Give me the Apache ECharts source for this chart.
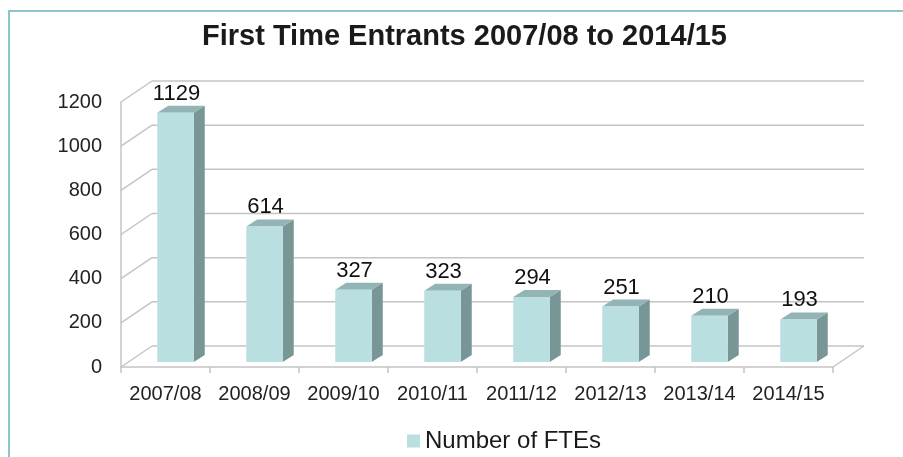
<!DOCTYPE html>
<html>
<head>
<meta charset="utf-8">
<script src="https://cdn.jsdelivr.net/npm/echarts@6/dist/echarts.min.js"></script>
<style>
html,body{margin:0;padding:0;background:#fff;}
#chart{width:903px;height:457px;}
</style>
</head>
<body>
<div id="chart"></div>
<script>
const categories = ['2007/08','2008/09','2009/10','2010/11','2011/12','2012/13','2013/14','2014/15'];
const fteValues = [1129, 614, 327, 323, 294, 251, 210, 193];
const yTicks = [0, 200, 400, 600, 800, 1000, 1200];
const seriesName = 'Number of FTEs';
const titleText = 'First Time Entrants 2007/08 to 2014/15';

const FONT = '"Liberation Sans", Arial, Helvetica, sans-serif';
const GRID = '#c4c4c4';
const FRONT = '#b9dfe0';
const SIDE = '#789696';
const TOP = '#92b4b4';
const WALL_DX = 31, WALL_DY = -21;

const chart = echarts.init(document.getElementById('chart'), null, {renderer: 'canvas'});

const option = {
  backgroundColor: '#ffffff',
  animation: false,
  title: {
    text: titleText,
    left: 202,
    top: 22,
    padding: 0,
    textStyle: {fontFamily: FONT, fontSize: 29, fontWeight: 'bold', color: '#1a1a1a'}
  },
  legend: {
    data: [seriesName],
    left: 407,
    top: 429,
    padding: 0,
    icon: 'rect',
    itemWidth: 13,
    itemHeight: 13,
    textStyle: {fontFamily: FONT, fontSize: 24, color: '#1a1a1a'}
  },
  graphic: [{
    type: 'polyline',
    silent: true,
    shape: {points: [[9, 460], [9, 11], [903, 11]]},
    style: {stroke: '#8cc6c9', lineWidth: 2, fill: null}
  }],
  grid: {left: 121, right: 70, top: 102, bottom: 90, containLabel: false},
  xAxis: {
    type: 'category',
    data: categories,
    boundaryGap: true,
    axisLine: {show: true, lineStyle: {color: GRID, width: 1.5}},
    axisTick: {show: true, length: 6, alignWithLabel: false, lineStyle: {color: GRID, width: 1.5}},
    axisLabel: {fontFamily: FONT, fontSize: 20, color: '#222', margin: 17, interval: 0},
    splitLine: {show: false}
  },
  yAxis: {
    type: 'value',
    min: 0,
    max: 1200,
    interval: 200,
    axisLine: {show: true, lineStyle: {color: GRID, width: 1.5}},
    axisTick: {show: false},
    axisLabel: {fontFamily: FONT, fontSize: 20, color: '#222', margin: 19,
      formatter: function (v) { return String(v); }},
    splitLine: {show: false}
  },
  series: [
    {
      type: 'custom',
      name: 'walls',
      silent: true,
      z: 1,
      data: yTicks.map(v => [0, v]),
      renderItem: function (params, api) {
        const cs = params.coordSys;
        const v = api.value(1);
        const y = api.coord([0, v])[1];
        const xl = cs.x, xr = cs.x + cs.width;
        const children = [
          {type: 'line', shape: {x1: xl, y1: y, x2: xl + WALL_DX, y2: y + WALL_DY},
           style: {stroke: GRID, lineWidth: 1.5}},
          {type: 'line', shape: {x1: xl + WALL_DX, y1: y + WALL_DY, x2: xr + WALL_DX, y2: y + WALL_DY},
           style: {stroke: GRID, lineWidth: 1.5}}
        ];
        if (v === 0) {
          children.push({type: 'line', shape: {x1: xr, y1: y, x2: xr + WALL_DX, y2: y + WALL_DY},
            style: {stroke: GRID, lineWidth: 1.5}});
        }
        return {type: 'group', children: children};
      }
    },
    {
      type: 'custom',
      name: seriesName,
      z: 2,
      itemStyle: {color: FRONT},
      data: categories.map((c, i) => [i, fteValues[i]]),
      encode: {x: 0, y: 1},
      renderItem: function (params, api) {
        const idx = api.value(0), v = api.value(1);
        const base = api.coord([idx, 0]);
        const top = api.coord([idx, v]);
        const band = api.size([1, 0])[0];
        const w = band * 0.41;
        const sx = 10, sy = -5;
        const dx = 11, dy = -7;
        const x0 = base[0] - w / 2 + sx, x1 = x0 + w;
        const yb = base[1] + sy, yt = top[1] + sy;
        return {
          type: 'group',
          children: [
            {type: 'polygon', shape: {points: [[x1, yt], [x1 + dx, yt + dy], [x1 + dx, yb + dy], [x1, yb]]},
             style: {fill: SIDE}},
            {type: 'polygon', shape: {points: [[x0, yt], [x1, yt], [x1 + dx, yt + dy], [x0 + dx, yt + dy]]},
             style: {fill: TOP}},
            {type: 'rect', shape: {x: x0, y: yt, width: w, height: yb - yt},
             style: {fill: FRONT}},
            {type: 'text', style: {text: String(v), x: (x0 + x1) / 2 + 1, y: yt - 19,
              align: 'center', verticalAlign: 'middle',
              font: '22px ' + FONT, fill: '#111'}}
          ]
        };
      }
    }
  ]
};
chart.setOption(option);
</script>
</body>
</html>
